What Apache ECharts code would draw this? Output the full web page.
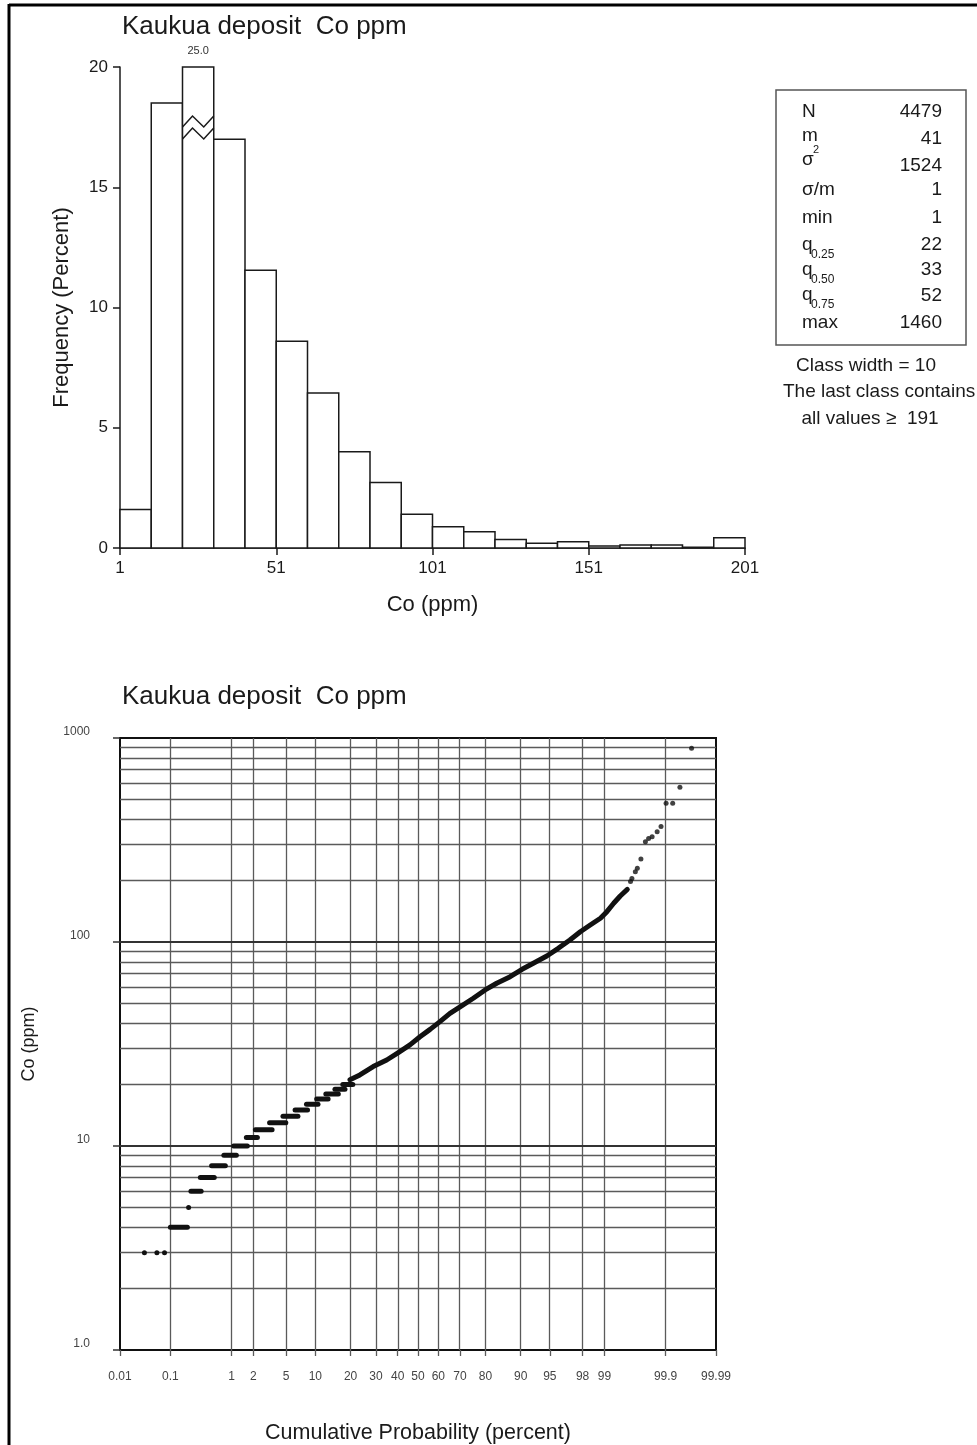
<!DOCTYPE html>
<html>
<head>
<meta charset="utf-8">
<script src="https://cdn.jsdelivr.net/npm/echarts@6/dist/echarts.min.js"></script>
<style>
html,body{margin:0;padding:0;background:#fff;}
#chart{width:977px;height:1445px;}
</style>
</head>
<body>
<div id="chart"></div>
<script>
// ---------------- DATA ----------------
const chartTitle = 'Kaukua deposit  Co ppm';
// Histogram (percent per class, class width 10)
const classWidth = 10;
const histBinStart = [1, 11, 21, 31, 41, 51, 61, 71, 81, 91, 101, 111, 121, 131, 141, 151, 161, 171, 181, 191];
const histFreq = [1.6, 18.5, 25.0, 17.0, 11.55, 8.6, 6.45, 4.0, 2.72, 1.4, 0.88, 0.68, 0.35, 0.2, 0.26, 0.08, 0.12, 0.12, 0.03, 0.43];
const histXTicks = [1, 51, 101, 151, 201];
const histYMax = 20;

// Summary statistics box
const statLabels = ['N', 'm', 'σ', 'σ/m', 'min', 'q', 'q', 'q', 'max'];
const statLabelSup = ['', '', '2', '', '', '', '', '', ''];
const statLabelSub = ['', '', '', '', '', '0.25', '0.50', '0.75', ''];
const statValues = ['4479', '41', '1524', '1', '1', '22', '33', '52', '1460'];
const noteLines = ['Class width = 10', 'The last class contains', 'all values \u2265  191'];

// Probability plot: runs of tied integer values (probability % start/end, value ppm)
const runValue     = [3, 3, 3, 4, 5, 6, 7, 8, 9, 10, 11, 12, 13, 14, 15, 16, 17, 18, 19, 20];
const runProbStart = [0.032, 0.056, 0.078, 0.10, 0.21, 0.23, 0.33, 0.50, 0.77, 1.07, 1.61, 2.12, 3.2, 4.6, 6.25, 8.2, 10.3, 12.5, 15.0, 17.4];
const runProbEnd   = [0.032, 0.056, 0.078, 0.20, 0.21, 0.34, 0.55, 0.81, 1.17, 1.66, 2.25, 3.43, 4.95, 6.7, 8.4, 10.6, 13.1, 16.0, 18.1, 20.8];
// Dense central part of the curve
const curveProb  = [19.8, 23.4, 28.8, 34.8, 40.3, 46.0, 51.0, 56.0, 60.8, 65.5, 70.7, 75.5, 79.9, 83.7, 87.5, 90.3, 92.5, 94.6, 96.0, 97.1, 97.86, 98.42, 98.86, 99.08, 99.27, 99.42, 99.55];
const curveValue = [21.1, 22.3, 24.5, 26.4, 28.7, 31.3, 34.3, 37.3, 40.7, 44.7, 48.6, 53.0, 58.2, 62.8, 67.6, 73.5, 78.6, 85.4, 93.1, 102.3, 112.3, 121.1, 130.7, 140.8, 154.8, 168.1, 181];
// Upper tail points
const tailProb  = [99.60, 99.62, 99.666, 99.69, 99.73, 99.773, 99.80, 99.826, 99.858, 99.879, 99.902, 99.926, 99.946, 99.968];
const tailValue = [198, 205, 221, 230, 255, 310, 322, 328, 347, 368, 479, 479, 573, 890];

// Axis ticks of the probability plot
const probTicks = [0.01, 0.1, 1, 2, 5, 10, 20, 30, 40, 50, 60, 70, 80, 90, 95, 98, 99, 99.9, 99.99];
const probTickLabels = ['0.01', '0.1', '1', '2', '5', '10', '20', '30', '40', '50', '60', '70', '80', '90', '95', '98', '99', '99.9', '99.99'];
const logMinorLines = [2, 3, 4, 5, 6, 7, 8, 9, 20, 30, 40, 50, 60, 70, 80, 90, 200, 300, 400, 500, 600, 700, 800, 900];
const logMajorLines = [10, 100];

// ---------------- HELPERS ----------------
function probit(p) { // inverse standard normal CDF (Acklam)
  const a = [-3.969683028665376e+01, 2.209460984245205e+02, -2.759285104469687e+02, 1.383577518672690e+02, -3.066479806614716e+01, 2.506628277459239e+00];
  const b = [-5.447609879822406e+01, 1.615858368580409e+02, -1.556989798598866e+02, 6.680131188771972e+01, -1.328068155288572e+01];
  const c = [-7.784894002430293e-03, -3.223964580411365e-01, -2.400758277161838e+00, -2.549732539343734e+00, 4.374664141464968e+00, 2.938163982698783e+00];
  const d = [7.784695709041462e-03, 3.224671290700398e-01, 2.445134137142996e+00, 3.754408661907416e+00];
  const pl = 0.02425, ph = 1 - pl;
  let q, r;
  if (p < pl) {
    q = Math.sqrt(-2 * Math.log(p));
    return (((((c[0]*q+c[1])*q+c[2])*q+c[3])*q+c[4])*q+c[5]) / ((((d[0]*q+d[1])*q+d[2])*q+d[3])*q+1);
  }
  if (p <= ph) {
    q = p - 0.5; r = q * q;
    return (((((a[0]*r+a[1])*r+a[2])*r+a[3])*r+a[4])*r+a[5])*q / (((((b[0]*r+b[1])*r+b[2])*r+b[3])*r+b[4])*r+1);
  }
  q = Math.sqrt(-2 * Math.log(1 - p));
  return -(((((c[0]*q+c[1])*q+c[2])*q+c[3])*q+c[4])*q+c[5]) / ((((d[0]*q+d[1])*q+d[2])*q+d[3])*q+1);
}
const pz = pct => probit(pct / 100);

const FONT = '"Liberation Sans", Arial, Helvetica, sans-serif';
const INK = '#1a1a1a';

// ---------------- BUILD ----------------
const histData = histBinStart.map((s, i) => [s, s + classWidth, histFreq[i]]);
const runData = runValue.map((v, i) => [pz(runProbStart[i]), pz(runProbEnd[i]), v]);
const curveData = curveProb.map((p, i) => [pz(p), curveValue[i]]);
const tailData = tailProb.map((p, i) => [pz(p), tailValue[i]]);
const probTickZ = probTicks.map(pz);
const zMin = probTickZ[0], zMax = probTickZ[probTickZ.length - 1];

function renderHist(params, api) {
  const x0 = api.value(0), x1 = api.value(1), f = api.value(2);
  const top = Math.min(f, histYMax);
  const pA = api.coord([x0, 0]);
  const pB = api.coord([x1, top]);
  const children = [{
    type: 'rect',
    shape: { x: pA[0], y: pB[1], width: pB[0] - pA[0], height: pA[1] - pB[1] },
    style: { fill: '#fff', stroke: INK, lineWidth: 1.5 }
  }];
  if (f > histYMax) {
    const w = pB[0] - pA[0], t = pB[1];
    [0, 12].forEach(off => {
      children.push({
        type: 'polyline',
        shape: { points: [[pA[0], t + 60 + off], [pA[0] + 0.32 * w, t + 49 + off], [pA[0] + 0.68 * w, t + 60 + off], [pB[0], t + 49 + off]] },
        style: { fill: null, stroke: INK, lineWidth: 1.5 }
      });
    });
    children.push({
      type: 'text',
      style: { text: f.toFixed(1), x: (pA[0] + pB[0]) / 2, y: t - 11, align: 'center', verticalAlign: 'bottom', font: '11px ' + FONT, fill: '#333' }
    });
  }
  return { type: 'group', children };
}

function renderRun(params, api) {
  const a = api.coord([api.value(0), api.value(2)]);
  const b = api.coord([api.value(1), api.value(2)]);
  const r = 2.5;
  return {
    type: 'rect',
    shape: { x: a[0] - r, y: a[1] - r, width: (b[0] - a[0]) + 2 * r, height: 2 * r, r: r },
    style: { fill: '#111' }
  };
}

// Stats box graphics
const boxX = 776, boxY = 90, boxW = 190, boxH = 255;
const labelX = 802, valueX = 942;
const labelRowY = [112, 136, 160, 190, 218, 245, 270, 295, 323];
const valueRowY = [112, 139, 166, 190, 218, 245, 270, 296, 323];
const statGraphics = [{
  type: 'rect', shape: { x: boxX, y: boxY, width: boxW, height: boxH },
  style: { fill: '#fff', stroke: '#555', lineWidth: 1.5 }
}];
statLabels.forEach((lab, i) => {
  statGraphics.push({ type: 'text', x: labelX, y: labelRowY[i], style: { text: lab, font: '19px ' + FONT, fill: INK, align: 'left', verticalAlign: 'middle' } });
  if (statLabelSup[i]) statGraphics.push({ type: 'text', x: labelX + 11, y: labelRowY[i] - 10, style: { text: statLabelSup[i], font: '11px ' + FONT, fill: INK, align: 'left', verticalAlign: 'middle' } });
  if (statLabelSub[i]) statGraphics.push({ type: 'text', x: labelX + 9, y: labelRowY[i] + 10, style: { text: statLabelSub[i], font: '12px ' + FONT, fill: INK, align: 'left', verticalAlign: 'middle' } });
  statGraphics.push({ type: 'text', x: valueX, y: valueRowY[i], style: { text: statValues[i], font: '19px ' + FONT, fill: INK, align: 'right', verticalAlign: 'middle' } });
});
const noteX = [866, 783, 870];
const noteAlign = ['center', 'left', 'center'];
const noteY = [366, 392, 419];
noteLines.forEach((t, i) => {
  statGraphics.push({ type: 'text', x: noteX[i], y: noteY[i], style: { text: t, font: '19px ' + FONT, fill: INK, align: noteAlign[i], verticalAlign: 'middle' } });
});

const frameGraphics = [
  { type: 'line', shape: { x1: 9, y1: 5, x2: 977, y2: 5 }, style: { stroke: '#000', lineWidth: 3 } },
  { type: 'line', shape: { x1: 9, y1: 4, x2: 9, y2: 1445 }, style: { stroke: '#000', lineWidth: 3 } }
];

const titleGraphics = [
  { type: 'text', x: 122, y: 27, style: { text: chartTitle, font: '26px ' + FONT, fill: INK, verticalAlign: 'middle' } },
  { type: 'text', x: 122, y: 697, style: { text: chartTitle, font: '26px ' + FONT, fill: INK, verticalAlign: 'middle' } }
];

const gridLineData = []
  .concat(probTickZ.slice(1, -1).map(z => ({ xAxis: z, lineStyle: { color: '#5a5a5a', width: 1.3, type: 'solid' } })))
  .concat(logMinorLines.map(v => ({ yAxis: v, lineStyle: { color: '#5a5a5a', width: 1.3, type: 'solid' } })))
  .concat(logMajorLines.map(v => ({ yAxis: v, lineStyle: { color: '#333', width: 2, type: 'solid' } })));

const chart = echarts.init(document.getElementById('chart'), null, { renderer: 'canvas' });
chart.setOption({
  animation: false,
  backgroundColor: '#fff',
  textStyle: { fontFamily: FONT },
  graphic: { elements: frameGraphics.concat(titleGraphics, statGraphics) },
  grid: [
    { left: 120, right: 232, top: 67, bottom: 897, show: false },
    { left: 120, right: 261, top: 738, bottom: 95, show: true, borderColor: '#111', borderWidth: 2, backgroundColor: 'transparent' }
  ],
  xAxis: [
    {
      gridIndex: 0, type: 'value', min: 1, max: 201,
      name: 'Co (ppm)', nameLocation: 'middle', nameGap: 46,
      nameTextStyle: { fontSize: 22, color: INK, fontFamily: FONT },
      axisLine: { show: true, onZero: false, lineStyle: { color: INK, width: 1.5 } },
      axisTick: { show: true, length: 7, customValues: histXTicks, lineStyle: { color: INK, width: 1.5 } },
      axisLabel: { customValues: histXTicks, fontSize: 17, color: INK, margin: 12, fontFamily: FONT },
      splitLine: { show: false }
    },
    {
      gridIndex: 1, type: 'value', min: zMin, max: zMax,
      name: 'Cumulative Probability (percent)', nameLocation: 'middle', nameGap: 72,
      nameTextStyle: { fontSize: 21.5, color: INK, fontFamily: FONT },
      axisLine: { show: true, onZero: false, lineStyle: { color: '#111', width: 2 } },
      axisTick: { show: true, length: 6, customValues: probTickZ, lineStyle: { color: '#5a5a5a', width: 1.3 } },
      axisLabel: {
        customValues: probTickZ, fontSize: 12, color: '#444', margin: 21, fontFamily: FONT,
        formatter: v => { let best = 0; probTickZ.forEach((z, i) => { if (Math.abs(z - v) < Math.abs(probTickZ[best] - v)) best = i; }); return probTickLabels[best]; }
      },
      splitLine: { show: false }
    }
  ],
  yAxis: [
    {
      gridIndex: 0, type: 'value', min: 0, max: histYMax, interval: 5,
      name: 'Frequency (Percent)', nameLocation: 'middle', nameGap: 47,
      nameTextStyle: { fontSize: 22, color: INK, fontFamily: FONT },
      axisLine: { show: true, onZero: false, lineStyle: { color: INK, width: 1.5 } },
      axisTick: { show: true, length: 7, lineStyle: { color: INK, width: 1.5 } },
      axisLabel: { fontSize: 17, color: INK, margin: 12, fontFamily: FONT },
      splitLine: { show: false }
    },
    {
      gridIndex: 1, type: 'log', logBase: 10, min: 1, max: 1000,
      name: 'Co (ppm)', nameLocation: 'middle', nameGap: 82,
      nameTextStyle: { fontSize: 18, color: INK, fontFamily: FONT },
      axisLine: { show: true, onZero: false, lineStyle: { color: '#111', width: 2 } },
      axisTick: { show: true, length: 7, lineStyle: { color: '#333', width: 1.5 } },
      axisLabel: {
        fontSize: 12, color: '#444', margin: 30, fontFamily: FONT, verticalAlign: 'bottom',
        formatter: v => (v === 1 ? '1.0' : String(v))
      },
      splitLine: { show: false }
    }
  ],
  series: [
    {
      type: 'custom', xAxisIndex: 0, yAxisIndex: 0, renderItem: renderHist,
      encode: { x: [0, 1], y: 2 }, data: histData, silent: true
    },
    {
      type: 'line', xAxisIndex: 1, yAxisIndex: 1, data: [], silent: true, z: 1,
      markLine: { silent: true, symbol: ['none', 'none'], label: { show: false }, emphasis: { disabled: true }, animation: false, data: gridLineData }
    },
    {
      type: 'custom', xAxisIndex: 1, yAxisIndex: 1, renderItem: renderRun,
      encode: { x: [0, 1], y: 2 }, data: runData, silent: true, z: 5
    },
    {
      type: 'line', xAxisIndex: 1, yAxisIndex: 1, data: curveData, showSymbol: false, symbol: 'none',
      lineStyle: { color: '#111', width: 5, cap: 'round', join: 'round' }, silent: true, z: 5
    },
    {
      type: 'scatter', xAxisIndex: 1, yAxisIndex: 1, data: tailData, symbolSize: 5,
      itemStyle: { color: '#111' }, silent: true, z: 5
    }
  ]
});
</script>
</body>
</html>
